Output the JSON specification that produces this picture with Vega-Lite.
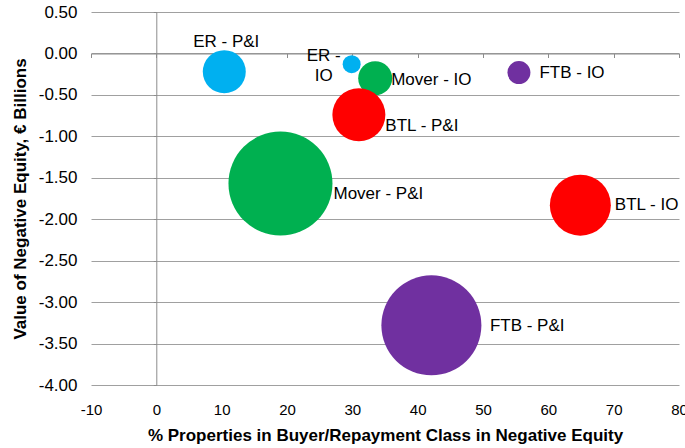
{
  "$schema": "https://vega.github.io/schema/vega-lite/v6.json",
  "width": 588,
  "height": 373,
  "autosize": "none",
  "padding": {"left": 91, "top": 12, "right": 6, "bottom": 63},
  "config": {"font": "Liberation Sans", "view": {"stroke": null}},
  "data": {
    "values": [
      {"name": "ER - P&I", "segment": "ER", "pct": 10.4, "value": -0.22, "size": 462},
      {"name": "ER - IO", "segment": "ER", "pct": 29.9, "value": -0.13, "size": 81},
      {"name": "Mover - IO", "segment": "Mover", "pct": 33.5, "value": -0.30, "size": 289},
      {"name": "FTB - IO", "segment": "FTB", "pct": 55.5, "value": -0.23, "size": 132},
      {"name": "BTL - P&I", "segment": "BTL", "pct": 31.0, "value": -0.74, "size": 702},
      {"name": "Mover - P&I", "segment": "Mover", "pct": 19.0, "value": -1.57, "size": 2704},
      {"name": "BTL - IO", "segment": "BTL", "pct": 64.9, "value": -1.83, "size": 930},
      {"name": "FTB - P&I", "segment": "FTB", "pct": 42.1, "value": -3.28, "size": 2500}
    ]
  },
  "resolve": {"axis": {"x": "independent", "y": "independent"}},
  "encoding": {
    "x": {"field": "pct", "type": "quantitative", "scale": {"domain": [-10, 80], "nice": false, "zero": false}},
    "y": {"field": "value", "type": "quantitative", "scale": {"domain": [-4, 0.5], "nice": false, "zero": false}}
  },
  "layer": [
    {
      "mark": {"type": "circle", "opacity": 1},
      "encoding": {
        "x": {"field": "pct", "type": "quantitative", "axis": {
          "orient": "bottom", "values": [-10, 0, 10, 20, 30, 40, 50, 60, 70, 80],
          "labelExpr": "replace(format(datum.value, 'd'), '\u2212', '-')",
          "grid": false, "domain": false, "ticks": false, "labelFontSize": 15, "labelColor": "#000",
          "labelPadding": 17, "labelFlush": false,
          "title": "% Properties in Buyer/Repayment Class in Negative Equity",
          "titleFontSize": 17, "titleFontWeight": "bold", "titleColor": "#000",
          "titleY": 50, "titleBaseline": "middle", "titleAlign": "center"
        }},
        "y": {"field": "value", "type": "quantitative", "axis": {
          "orient": "left", "values": [-4, -3.5, -3, -2.5, -2, -1.5, -1, -0.5, 0, 0.5],
          "labelExpr": "replace(format(datum.value, '.2f'), '\u2212', '-')",
          "grid": true, "gridColor": "#a0a0a0", "gridWidth": 1, "domain": false, "ticks": false,
          "labelFontSize": 17, "labelColor": "#000", "labelPadding": 14, "labelFlush": false,
          "title": "Value of Negative Equity, € Billions",
          "titleFontSize": 17, "titleFontWeight": "bold", "titleColor": "#000",
          "titleX": -71, "titleBaseline": "middle", "titleAlign": "center"
        }},
        "size": {"field": "size", "type": "quantitative", "scale": {"domain": [0, 2704], "range": [0, 10816]}, "legend": null},
        "color": {"field": "segment", "type": "nominal", "scale": {"domain": ["ER", "Mover", "BTL", "FTB"], "range": ["#00B0F0", "#00B050", "#FF0000", "#7030A0"]}, "legend": null},
        "order": {"field": "size", "sort": "ascending"}
      }
    },
    {
      "transform": [{"filter": "datum.name == 'ER - P&I'"}],
      "mark": {"type": "text", "align": "center", "baseline": "middle", "dx": 2, "dy": -30, "fontSize": 17, "color": "#000"},
      "encoding": {
        "text": {"field": "name"},
        "x": {"field": "pct", "type": "quantitative", "axis": {
          "orient": "top", "offset": -41.5, "values": [-10, 0, 10, 20, 30, 40, 50, 60, 70, 80],
          "labels": false, "grid": false, "domain": true, "domainColor": "#8c8c8c", "ticks": true,
          "tickColor": "#8c8c8c", "tickSize": -4, "title": null
        }},
        "y": {"field": "value", "type": "quantitative", "axis": {
          "orient": "left", "offset": -65.3, "values": [-4, -3.5, -3, -2.5, -2, -1.5, -1, -0.5, 0, 0.5],
          "labels": false, "grid": false, "domain": true, "domainColor": "#8c8c8c", "ticks": true,
          "tickColor": "#8c8c8c", "tickSize": 3, "title": null
        }}
      }
    },
    {
      "transform": [{"filter": "datum.name == 'ER - IO'"}],
      "mark": {"type": "text", "align": "center", "baseline": "middle", "dx": -28, "dy": -8, "fontSize": 17, "color": "#000", "lineHeight": 20},
      "encoding": {
        "text": {"value": ["ER -", "IO"]},
        "x": {"field": "pct", "type": "quantitative", "axis": null},
        "y": {"field": "value", "type": "quantitative", "axis": null}
      }
    },
    {
      "transform": [{"filter": "datum.name == 'Mover - IO'"}],
      "mark": {"type": "text", "align": "left", "baseline": "middle", "dx": 16, "dy": 2, "fontSize": 17, "color": "#000"},
      "encoding": {
        "text": {"field": "name"},
        "x": {"field": "pct", "type": "quantitative", "axis": null},
        "y": {"field": "value", "type": "quantitative", "axis": null}
      }
    },
    {
      "transform": [{"filter": "datum.name == 'FTB - IO'"}],
      "mark": {"type": "text", "align": "left", "baseline": "middle", "dx": 20.5, "dy": 0, "fontSize": 17, "color": "#000"},
      "encoding": {
        "text": {"field": "name"},
        "x": {"field": "pct", "type": "quantitative", "axis": null},
        "y": {"field": "value", "type": "quantitative", "axis": null}
      }
    },
    {
      "transform": [{"filter": "datum.name == 'BTL - P&I'"}],
      "mark": {"type": "text", "align": "left", "baseline": "middle", "dx": 26.5, "dy": 11, "fontSize": 17, "color": "#000"},
      "encoding": {
        "text": {"field": "name"},
        "x": {"field": "pct", "type": "quantitative", "axis": null},
        "y": {"field": "value", "type": "quantitative", "axis": null}
      }
    },
    {
      "transform": [{"filter": "datum.name == 'Mover - P&I'"}],
      "mark": {"type": "text", "align": "left", "baseline": "middle", "dx": 53, "dy": 10, "fontSize": 17, "color": "#000"},
      "encoding": {
        "text": {"field": "name"},
        "x": {"field": "pct", "type": "quantitative", "axis": null},
        "y": {"field": "value", "type": "quantitative", "axis": null}
      }
    },
    {
      "transform": [{"filter": "datum.name == 'BTL - IO'"}],
      "mark": {"type": "text", "align": "left", "baseline": "middle", "dx": 34.5, "dy": 0, "fontSize": 17, "color": "#000"},
      "encoding": {
        "text": {"field": "name"},
        "x": {"field": "pct", "type": "quantitative", "axis": null},
        "y": {"field": "value", "type": "quantitative", "axis": null}
      }
    },
    {
      "transform": [{"filter": "datum.name == 'FTB - P&I'"}],
      "mark": {"type": "text", "align": "left", "baseline": "middle", "dx": 58.5, "dy": 1, "fontSize": 17, "color": "#000"},
      "encoding": {
        "text": {"field": "name"},
        "x": {"field": "pct", "type": "quantitative", "axis": null},
        "y": {"field": "value", "type": "quantitative", "axis": null}
      }
    }
  ]
}
